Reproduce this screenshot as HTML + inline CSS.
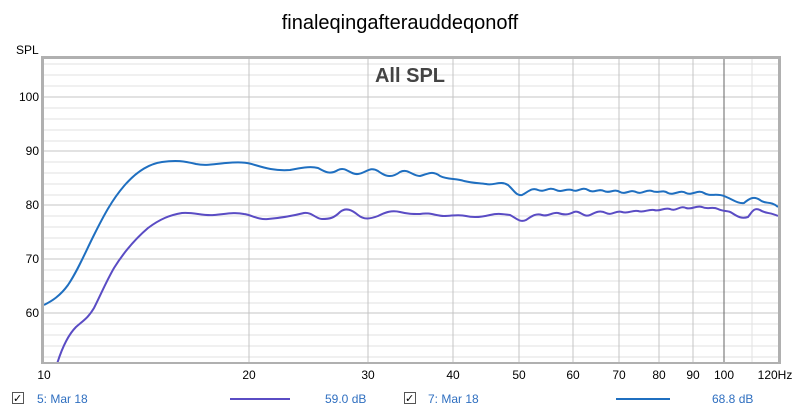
<!DOCTYPE html>
<html><head><style>
body{margin:0;background:#fff;}
svg{display:block;font-family:"Liberation Sans",sans-serif;}
</style></head><body>
<svg width="800" height="414" xmlns="http://www.w3.org/2000/svg">
<rect width="800" height="414" fill="#fff"/>
<text x="400" y="29" font-size="20" text-anchor="middle" fill="#000">finaleqingafterauddeqonoff</text>
<text x="16" y="54" font-size="12" fill="#000">SPL</text>
<rect x="42.5" y="57.5" width="737" height="305" fill="none" stroke="#b0b0b0" stroke-width="3"/>
<rect x="44" y="59" width="734" height="303" fill="#fff"/>
<g stroke="#e2e2e2" stroke-width="1">
<line x1="44" x2="778" y1="64" y2="64"/><line x1="44" x2="778" y1="75" y2="75"/><line x1="44" x2="778" y1="86" y2="86"/>
<line x1="44" x2="778" y1="108" y2="108"/><line x1="44" x2="778" y1="119" y2="119"/><line x1="44" x2="778" y1="130" y2="130"/><line x1="44" x2="778" y1="141" y2="141"/>
<line x1="44" x2="778" y1="162" y2="162"/><line x1="44" x2="778" y1="173" y2="173"/><line x1="44" x2="778" y1="184" y2="184"/><line x1="44" x2="778" y1="195" y2="195"/>
<line x1="44" x2="778" y1="216" y2="216"/><line x1="44" x2="778" y1="227" y2="227"/><line x1="44" x2="778" y1="238" y2="238"/><line x1="44" x2="778" y1="249" y2="249"/>
<line x1="44" x2="778" y1="270" y2="270"/><line x1="44" x2="778" y1="281" y2="281"/><line x1="44" x2="778" y1="292" y2="292"/><line x1="44" x2="778" y1="303" y2="303"/>
<line x1="44" x2="778" y1="324" y2="324"/><line x1="44" x2="778" y1="335" y2="335"/><line x1="44" x2="778" y1="346" y2="346"/><line x1="44" x2="778" y1="357" y2="357"/>
<line x1="752" x2="752" y1="59" y2="362"/>
</g>
<g stroke="#c4c4c4" stroke-width="1">
<line x1="44" x2="778" y1="97" y2="97"/><line x1="44" x2="778" y1="151" y2="151"/><line x1="44" x2="778" y1="205" y2="205"/><line x1="44" x2="778" y1="259" y2="259"/><line x1="44" x2="778" y1="313" y2="313"/>
<line x1="249" x2="249" y1="59" y2="362"/><line x1="368" x2="368" y1="59" y2="362"/><line x1="453" x2="453" y1="59" y2="362"/><line x1="519" x2="519" y1="59" y2="362"/><line x1="573" x2="573" y1="59" y2="362"/><line x1="619" x2="619" y1="59" y2="362"/><line x1="659" x2="659" y1="59" y2="362"/><line x1="693" x2="693" y1="59" y2="362"/>
</g>
<line x1="724" x2="724" y1="59" y2="362" stroke="#666" stroke-width="1"/>
<text x="410" y="82" font-size="20" font-weight="bold" fill="#444" text-anchor="middle">All SPL</text>
<g font-size="12" fill="#000" text-anchor="end">
<text x="39" y="101">100</text><text x="39" y="155">90</text><text x="39" y="209">80</text><text x="39" y="263">70</text><text x="39" y="317">60</text>
</g>
<g font-size="12" fill="#000" text-anchor="middle">
<text x="44" y="379">10</text><text x="249" y="379">20</text><text x="368" y="379">30</text><text x="453" y="379">40</text><text x="519" y="379">50</text><text x="573" y="379">60</text><text x="619" y="379">70</text><text x="659" y="379">80</text><text x="693" y="379">90</text><text x="724" y="379">100</text><text x="775" y="379">120Hz</text>
</g>
<clipPath id="c"><rect x="44" y="59" width="734" height="303"/></clipPath>
<g clip-path="url(#c)" fill="none" stroke-width="2">
<path stroke="#1f6fc0" d="M44,305 C52,301 60,296 68,285 C78,270 84,255 94,235 C104,215 112,200 124,186 C136,172 148,164 162,162 C176,160 184,161 196,164 C206,166 214,164 226,163 C238,162 246,162 255,165 C265,168 275,171 290,170 C300,168 310,166 318,168 C325,172 330,175 338,170 C346,166 350,175 358,174 C366,173 370,166 378,171 C386,177 392,178 400,172 C408,168 412,176 420,176 C428,174 432,170 440,176 C448,180 456,178 464,181 C472,183 478,183 486,184 C494,186 500,180 508,185 C514,190 516,196 522,195 C528,192 532,187 538,190 C545,193 548,186 556,190 C562,193 566,188 572,190 C578,193 582,186 588,190 C594,194 598,188 604,191 C610,194 614,188 620,192 C626,195 630,189 636,192 C642,195 646,189 652,191 C658,194 662,189 668,193 C674,196 680,189 686,193 C692,196 698,189 704,193 C710,197 716,193 724,196 C732,199 738,204 744,203 C750,198 754,196 760,200 C766,205 770,200 778,207"/>
<path stroke="#5a4cc4" d="M57,364 C62,348 68,335 76,327 C84,320 88,318 94,308 C102,292 106,282 114,268 C124,252 134,240 148,228 C160,219 170,215 182,213 C194,212 202,216 214,215 C226,214 234,212 244,214 C252,215 258,220 268,219 C280,218 292,216 304,213 C312,212 316,219 322,219 C330,219 334,218 340,212 C346,207 352,210 358,215 C364,220 370,219 378,216 C386,212 392,210 400,212 C408,214 412,214 420,214 C430,212 436,216 444,216 C452,216 458,214 466,216 C474,218 482,217 490,215 C498,213 502,214 510,215 C516,218 520,223 526,220 C532,216 536,213 542,215 C548,217 552,212 558,213 C564,215 568,215 574,212 C580,210 584,218 590,215 C596,212 600,210 606,213 C612,216 616,210 622,212 C628,214 632,210 638,211 C644,213 648,209 654,210 C660,212 664,207 670,209 C676,212 680,205 686,208 C692,210 696,205 702,207 C708,210 712,206 718,209 C724,212 728,210 732,213 C738,217 742,219 748,217 C752,212 754,207 760,210 C766,214 770,212 778,216"/>
</g>
<rect x="12.5" y="392.5" width="11" height="11" fill="#fff" stroke="#555"/>
<text x="13" y="402" font-size="11" fill="#000">✓</text>
<text x="37" y="403" font-size="12" fill="#2f6fc0">5: Mar 18</text>
<line x1="230" x2="290" y1="399" y2="399" stroke="#5a4cc4" stroke-width="2"/>
<text x="325" y="403" font-size="12" fill="#2f6fc0">59.0 dB</text>
<rect x="404.5" y="392.5" width="11" height="11" fill="#fff" stroke="#555"/>
<text x="405" y="402" font-size="11" fill="#000">✓</text>
<text x="428" y="403" font-size="12" fill="#2f6fc0">7: Mar 18</text>
<line x1="616" x2="670" y1="399" y2="399" stroke="#1f6fc0" stroke-width="2"/>
<text x="712" y="403" font-size="12" fill="#2f6fc0">68.8 dB</text>
</svg>
</body></html>
